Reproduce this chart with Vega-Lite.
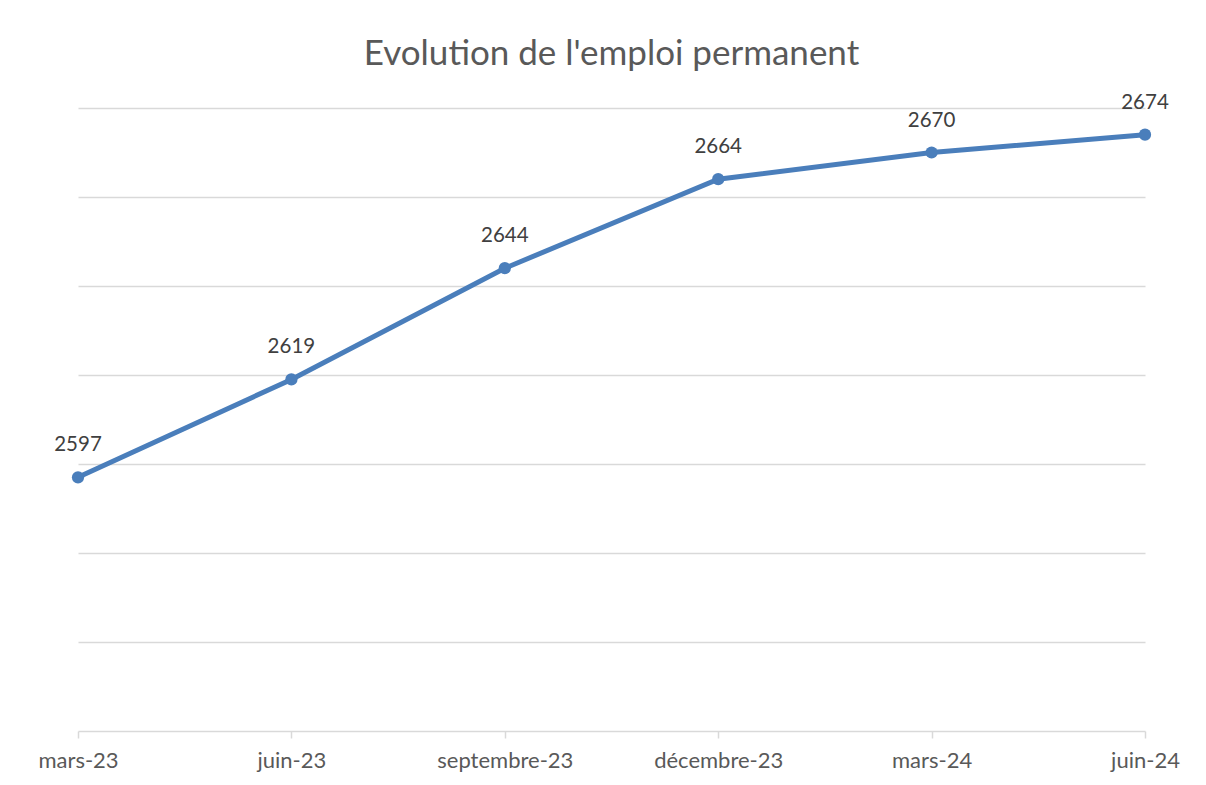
{
  "$schema": "https://vega.github.io/schema/vega-lite/v6.json",
  "width": 1067,
  "height": 623,
  "autosize": "none",
  "padding": {"left": 78, "top": 108, "right": 61, "bottom": 54},
  "background": "white",
  "title": {
    "text": "Evolution de l'emploi permanent",
    "font": "Lato",
    "fontSize": 35,
    "fontWeight": "normal",
    "color": "#595959",
    "anchor": "middle",
    "offset": 21
  },
  "config": {"view": {"stroke": null}},
  "data": {
    "values": [
      {"periode": "mars-23", "valeur": 2597},
      {"periode": "juin-23", "valeur": 2619},
      {"periode": "septembre-23", "valeur": 2644},
      {"periode": "décembre-23", "valeur": 2664},
      {"periode": "mars-24", "valeur": 2670},
      {"periode": "juin-24", "valeur": 2674}
    ]
  },
  "encoding": {
    "x": {
      "field": "periode",
      "type": "ordinal",
      "sort": null,
      "scale": {"type": "point", "padding": 0},
      "axis": {
        "title": null,
        "labelAngle": 0,
        "labelFont": "Lato",
        "labelFontSize": 22,
        "labelColor": "#595959",
        "labelPadding": 12,
        "tickSize": 7,
        "tickColor": "#d9d9d9",
        "tickWidth": 1.5,
        "domainColor": "#d9d9d9",
        "domainWidth": 1.5,
        "grid": false
      }
    },
    "y": {
      "field": "valeur",
      "type": "quantitative",
      "scale": {"domain": [2540, 2680], "zero": false, "nice": false},
      "axis": {
        "title": null,
        "values": [2560, 2580, 2600, 2620, 2640, 2660, 2680],
        "labels": false,
        "ticks": false,
        "domain": false,
        "grid": true,
        "gridColor": "#d9d9d9",
        "gridWidth": 1.5
      }
    }
  },
  "layer": [
    {
      "mark": {
        "type": "line",
        "color": "#4a7ebb",
        "strokeWidth": 5,
        "point": {"filled": true, "size": 150, "color": "#4a7ebb", "opacity": 1}
      }
    },
    {
      "mark": {
        "type": "text",
        "font": "Lato",
        "fontSize": 20.5,
        "color": "#404040",
        "baseline": "middle",
        "dy": -32
      },
      "encoding": {"text": {"field": "valeur", "type": "quantitative", "format": "d"}}
    }
  ]
}
